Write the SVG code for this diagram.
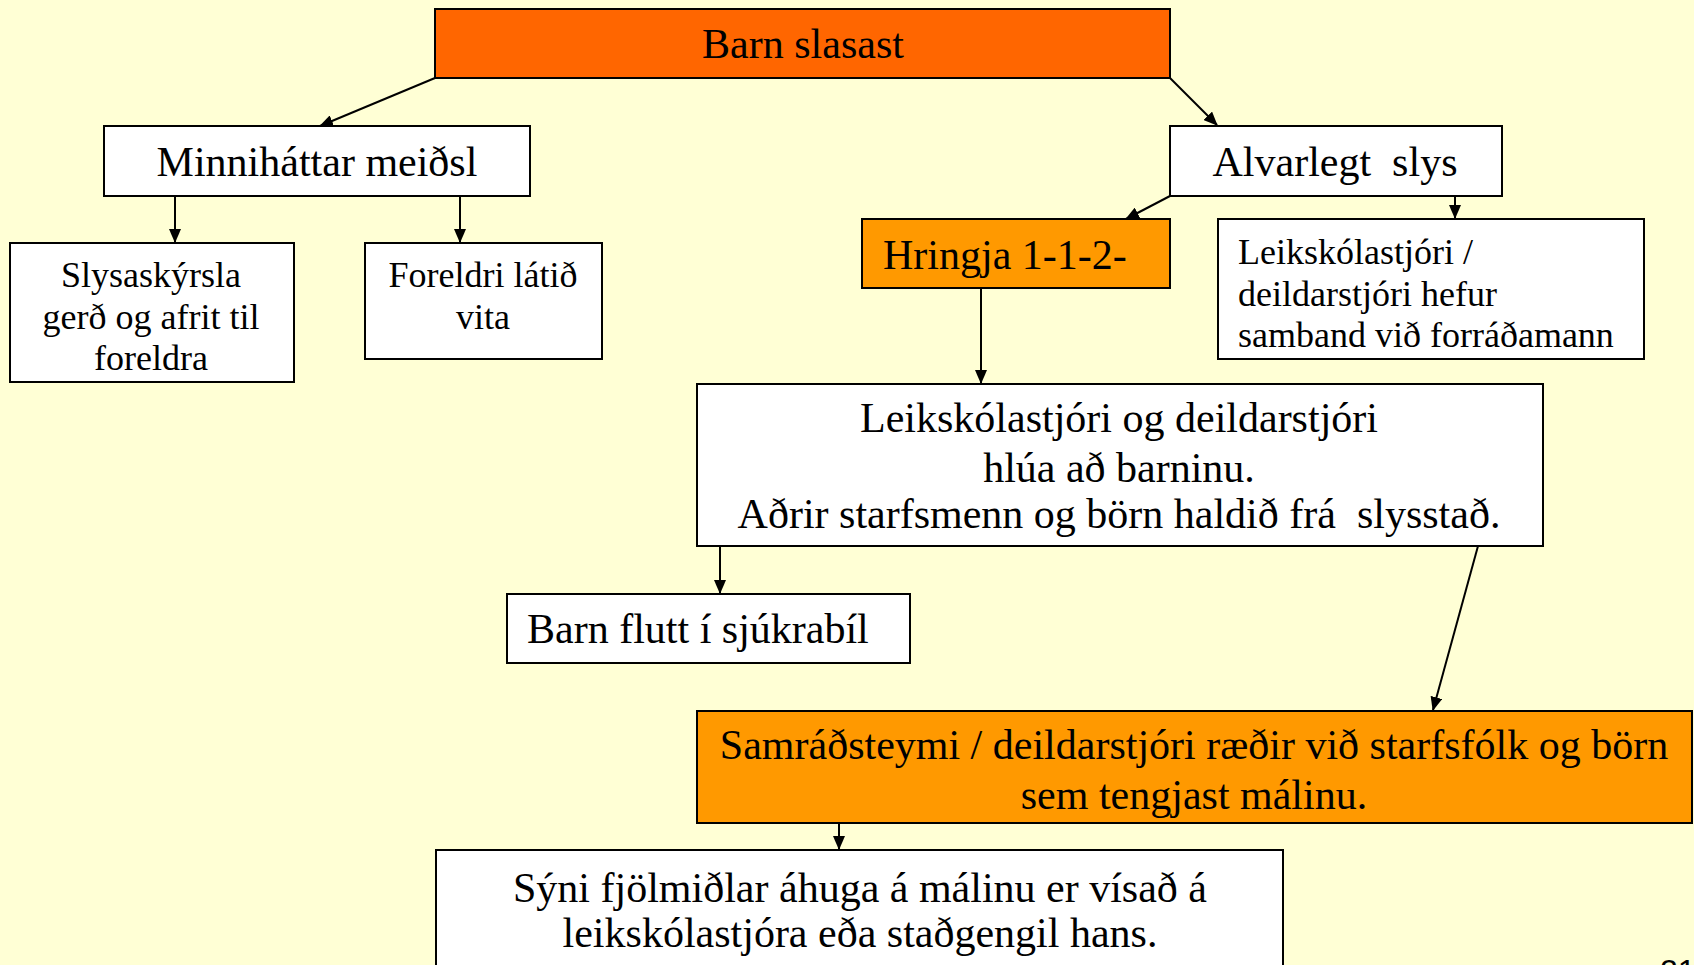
<svg xmlns="http://www.w3.org/2000/svg" width="1694" height="965" viewBox="0 0 1694 965">
<style>
.bg{fill:#FFFFD5}
.box{stroke:#000;stroke-width:2}
.w{fill:#fff}
.o1{fill:#FF6600}
.o2{fill:#FF9900}
.t{font-size:42px}
.s{font-size:36px}
.c{text-anchor:middle}
.con line{stroke:#000;stroke-width:2;marker-end:url(#ah)}
</style>
<defs>
<marker id="ah" markerWidth="14" markerHeight="12" refX="13" refY="6" orient="auto" markerUnits="userSpaceOnUse">
<path d="M0,0 L14,6 L0,12 Z" fill="#000"/>
</marker>
</defs>
<rect class="bg" x="0" y="0" width="1694" height="965"/>
<g id="connectors" class="con">
<line x1="435" y1="78" x2="320" y2="126"/>
<line x1="1170" y1="78" x2="1217" y2="125"/>
<line x1="175" y1="196" x2="175" y2="242"/>
<line x1="460" y1="196" x2="460" y2="242"/>
<line x1="1170" y1="196" x2="1126" y2="219"/>
<line x1="1455" y1="196" x2="1455" y2="218"/>
<line x1="981" y1="288" x2="981" y2="383"/>
<line x1="720" y1="546" x2="720" y2="593"/>
<line x1="1478" y1="546" x2="1433" y2="710"/>
<line x1="839" y1="823" x2="839" y2="849"/>
</g>
<g font-family="Liberation Serif, Tinos, DejaVu Serif, serif" fill="#000">
<g id="barn-slasast">
<rect class="box o1" x="435" y="9" width="735" height="69"/>
<text class="t c" x="803" y="58">Barn slasast</text>
</g>
<g id="minnihattar">
<rect class="box w" x="104" y="126" width="426" height="70"/>
<text class="t c" x="317" y="176">Minniháttar meiðsl</text>
</g>
<g id="slysaskyrsla">
<rect class="box w" x="10" y="243" width="284" height="139"/>
<text class="s c" x="151" y="287">Slysaskýrsla</text>
<text class="s c" x="151" y="329">gerð og afrit til</text>
<text class="s c" x="151" y="370">foreldra</text>
</g>
<g id="foreldri">
<rect class="box w" x="365" y="243" width="237" height="116"/>
<text class="s c" x="483" y="287">Foreldri látið</text>
<text class="s c" x="483" y="329">vita</text>
</g>
<g id="alvarlegt">
<rect class="box w" x="1170" y="126" width="332" height="70"/>
<text class="t c" x="1335" y="176" xml:space="preserve">Alvarlegt  slys</text>
</g>
<g id="hringja">
<rect class="box o2" x="862" y="219" width="308" height="69"/>
<text class="t" x="883" y="269">Hringja 1-1-2-</text>
</g>
<g id="leikskolastjori-samband">
<rect class="box w" x="1218" y="219" width="426" height="140"/>
<text class="s" x="1238" y="264">Leikskólastjóri /</text>
<text class="s" x="1238" y="306">deildarstjóri hefur</text>
<text class="s" x="1238" y="347">samband við forráðamann</text>
</g>
<g id="hlua">
<rect class="box w" x="697" y="384" width="846" height="162"/>
<text class="t c" x="1119" y="432">Leikskólastjóri og deildarstjóri</text>
<text class="t c" x="1119" y="482">hlúa að barninu.</text>
<text class="t c" x="1119" y="528" xml:space="preserve">Aðrir starfsmenn og börn haldið frá  slysstað.</text>
</g>
<g id="barn-flutt">
<rect class="box w" x="507" y="594" width="403" height="69"/>
<text class="t" x="527" y="643">Barn flutt í sjúkrabíl</text>
</g>
<g id="samradsteymi">
<rect class="box o2" x="697" y="711" width="995" height="112"/>
<text class="t c" x="1194" y="759">Samráðsteymi / deildarstjóri ræðir við starfsfólk og börn</text>
<text class="t c" x="1194" y="809">sem tengjast málinu.</text>
</g>
<g id="fjolmidlar">
<rect class="box w" x="436" y="850" width="847" height="130"/>
<text class="t c" x="860" y="902">Sýni fjölmiðlar áhuga á málinu er vísað á</text>
<text class="t c" x="860" y="947">leikskólastjóra eða staðgengil hans.</text>
</g>
</g>
<text x="1660" y="982" font-family="Liberation Sans, Arial, sans-serif" font-size="32" fill="#000">21</text>
</svg>
